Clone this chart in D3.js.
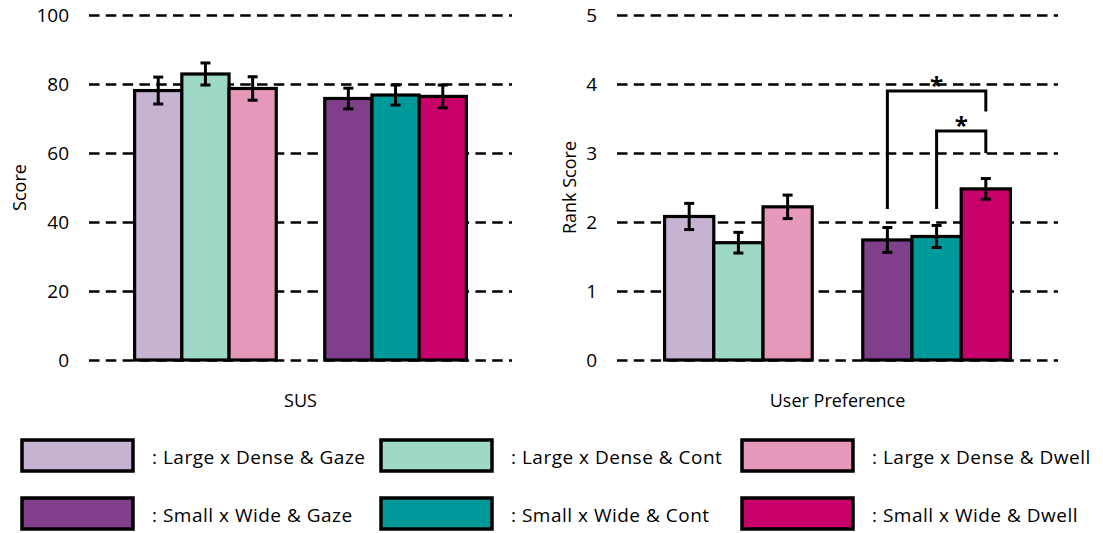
<!DOCTYPE html>
<html>
<head>
<meta charset="utf-8">
<script src="https://cdn.jsdelivr.net/npm/d3@7"></script>
<style>
  html, body { margin: 0; padding: 0; background: #fff; }
  svg { display: block; }
</style>
</head>
<body>
<svg id="chart" width="1103" height="533"></svg>
<script>
// Conditions (legend order) and their fills
const conditions = [
  "Large x Dense & Gaze", "Large x Dense & Cont", "Large x Dense & Dwell",
  "Small x Wide & Gaze", "Small x Wide & Cont", "Small x Wide & Dwell"
];
const colors = ["#c6b3d2", "#9ed8c6", "#e598b9", "#7f3f8b", "#009999", "#c8006a"];
const groups = ["Large x Dense", "Small x Wide"];

// SUS panel
const susMeans = [78.1, 82.9, 78.7, 75.8, 76.8, 76.4];
const susErrors = [3.9, 3.2, 3.4, 3.0, 2.9, 3.3];
const susTicks = [0, 20, 40, 60, 80, 100];

// User preference panel
const prefMeans = [2.08, 1.70, 2.22, 1.74, 1.79, 2.48];
const prefErrors = [0.19, 0.15, 0.17, 0.18, 0.16, 0.15];
const prefTicks = [0, 1, 2, 3, 4, 5];

// Significance brackets (condition indices, leg bottom, top, right-leg end)
const brackets = [
  { from: 3, to: 5, bottom: 2.19, top: 3.90, end: 3.60, label: "*" },
  { from: 4, to: 5, bottom: 2.19, top: 3.32, end: 3.00, label: "*" }
];

(function() {
  const INK = "#000";
  const FONT = "'Open Sans', sans-serif";
  const svg = d3.select("#chart");

  const top = 15, bottom = 360;

  function drawPanel(opts) {
    const g = svg.append("g");

    const y = d3.scaleLinear().domain(opts.domain).range([bottom, top]);

    const x0 = d3.scaleBand()
      .domain(groups)
      .range([opts.left, opts.right])
      .paddingInner(0.255)
      .paddingOuter(0.24);

    const x1 = d3.scaleBand()
      .domain([0, 1, 2])
      .range([0, x0.bandwidth()]);

    const barX = i => x0(groups[Math.floor(i / 3)]) + x1(i % 3);
    const barC = i => barX(i) + x1.bandwidth() / 2;

    // Dashed grid + tick labels
    const axis = g.append("g")
      .attr("transform", `translate(${opts.left},0)`)
      .call(d3.axisLeft(y)
        .tickValues(opts.ticks)
        .tickFormat(d3.format("d"))
        .tickSize(-(opts.right - opts.left))
        .tickPadding(20));
    axis.select(".domain").remove();
    axis.selectAll(".tick line")
      .attr("stroke", INK)
      .attr("stroke-width", 2.6)
      .attr("stroke-dasharray", "10.5 6.3");
    axis.selectAll(".tick text")
      .attr("font-family", FONT)
      .attr("font-size", 19)
      .attr("fill", INK);

    // Bars
    const idx = d3.range(opts.means.length);
    g.selectAll("rect.bar")
      .data(idx)
      .join("rect")
      .attr("class", "bar")
      .attr("x", i => barX(i))
      .attr("width", x1.bandwidth())
      .attr("y", i => y(opts.means[i]))
      .attr("height", i => y(0) - y(opts.means[i]))
      .attr("fill", i => colors[i])
      .attr("stroke", INK)
      .attr("stroke-width", 3.2);

    // Error bars
    const eb = g.selectAll("g.err")
      .data(idx)
      .join("g")
      .attr("class", "err")
      .attr("stroke", INK)
      .attr("stroke-width", 3);
    eb.append("line")
      .attr("x1", i => barC(i)).attr("x2", i => barC(i))
      .attr("y1", i => y(opts.means[i] + opts.errors[i]))
      .attr("y2", i => y(opts.means[i] - opts.errors[i]));
    eb.append("line")
      .attr("x1", i => barC(i) - 5).attr("x2", i => barC(i) + 5)
      .attr("y1", i => y(opts.means[i] + opts.errors[i]))
      .attr("y2", i => y(opts.means[i] + opts.errors[i]));
    eb.append("line")
      .attr("x1", i => barC(i) - 5).attr("x2", i => barC(i) + 5)
      .attr("y1", i => y(opts.means[i] - opts.errors[i]))
      .attr("y2", i => y(opts.means[i] - opts.errors[i]));

    // Significance brackets
    if (opts.brackets) {
      opts.brackets.forEach(b => {
        g.append("path")
          .attr("d", `M${barC(b.from)},${y(b.bottom)} V${y(b.top)} H${barC(b.to)} V${y(b.end)}`)
          .attr("fill", "none")
          .attr("stroke", INK)
          .attr("stroke-width", 3);
        g.append("text")
          .attr("x", (barC(b.from) + barC(b.to)) / 2)
          .attr("y", y(b.top) + 3)
          .attr("text-anchor", "middle")
          .attr("font-family", FONT)
          .attr("font-size", 24)
          .attr("font-weight", 700)
          .attr("fill", INK)
          .text(b.label);
      });
    }

    // Axis titles
    g.append("text")
      .attr("transform", `translate(${opts.left + opts.yLabelOffset},${(top + bottom) / 2}) rotate(-90)`)
      .attr("text-anchor", "middle")
      .attr("dominant-baseline", "central")
      .attr("font-family", FONT)
      .attr("font-size", 18)
      .attr("fill", INK)
      .text(opts.yLabel);

    g.append("text")
      .attr("x", (opts.left + opts.right) / 2)
      .attr("y", 407)
      .attr("text-anchor", "middle")
      .attr("font-family", FONT)
      .attr("font-size", 18)
      .attr("fill", INK)
      .text(opts.xLabel);
  }

  drawPanel({
    left: 89, right: 512, domain: [0, 100], ticks: susTicks,
    means: susMeans, errors: susErrors,
    yLabel: "Score", yLabelOffset: -70, xLabel: "SUS"
  });

  drawPanel({
    left: 617, right: 1058, domain: [0, 5], ticks: prefTicks,
    means: prefMeans, errors: prefErrors, brackets: brackets,
    yLabel: "Rank Score", yLabelOffset: -48, xLabel: "User Preference"
  });

  // Legend: 3 columns x 2 rows
  const legendX = [22, 381, 742];
  const legendY = [440, 498];
  const legend = svg.append("g")
    .selectAll("g")
    .data(conditions)
    .join("g")
    .attr("transform", (d, i) => `translate(${legendX[i % 3]},${legendY[Math.floor(i / 3)]})`);

  legend.append("rect")
    .attr("width", 111)
    .attr("height", 31)
    .attr("fill", (d, i) => colors[i])
    .attr("stroke", INK)
    .attr("stroke-width", 3.5);

  legend.append("text")
    .attr("x", 130)
    .attr("y", 17)
    .attr("dominant-baseline", "central")
    .attr("font-family", FONT)
    .attr("font-size", 19)
    .attr("letter-spacing", 0.5)
    .attr("fill", INK)
    .text(d => ": " + d);
})();
</script>
</body>
</html>
